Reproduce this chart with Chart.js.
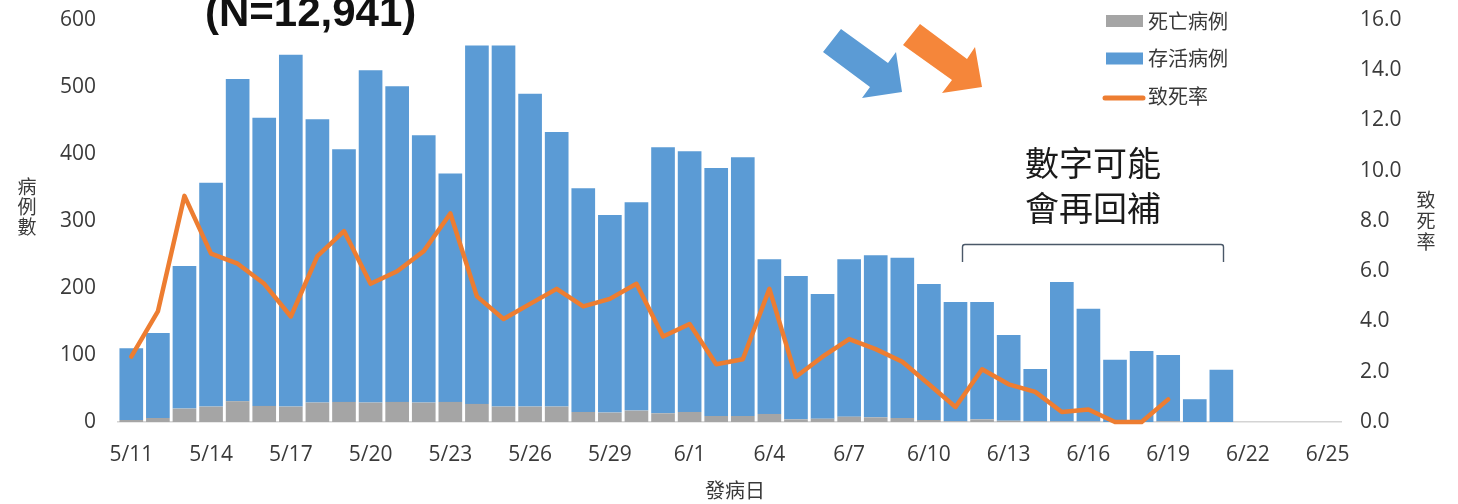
<!DOCTYPE html>
<html>
<head>
<meta charset="utf-8">
<script src="https://cdn.jsdelivr.net/npm/chart.js@4"></script>
<style>
  html, body { margin: 0; padding: 0; background: #fff; }
  #wrap { width: 1458px; height: 504px; position: relative; }
</style>
</head>
<body>
<div id="wrap"><canvas id="c"></canvas></div>
<script>
// categories: onset date, 5/11 .. 6/25
const dates = [
  '5/11','5/12','5/13','5/14','5/15','5/16','5/17','5/18','5/19','5/20','5/21',
  '5/22','5/23','5/24','5/25','5/26','5/27','5/28','5/29','5/30','5/31',
  '6/1','6/2','6/3','6/4','6/5','6/6','6/7','6/8','6/9','6/10',
  '6/11','6/12','6/13','6/14','6/15','6/16','6/17','6/18','6/19','6/20',
  '6/21','6/22','6/23','6/24','6/25'
];
// 死亡病例
const deaths = [
  3, 6, 20, 23, 31, 24, 23, 29, 30, 29, 30,
  29, 30, 27, 23, 23, 23, 15, 14, 17, 13,
  15, 9, 9, 12, 4, 5, 8, 7, 6, 3,
  1, 4, 2, 1, 1, 1, 0, 0, 1, 0,
  0
];
// 存活病例
const survived = [
  107, 127, 213, 334, 481, 430, 525, 423, 377, 496, 471,
  399, 341, 535, 539, 467, 410, 334, 295, 311, 397,
  389, 370, 386, 231, 214, 186, 235, 242, 239, 203,
  178, 175, 128, 78, 208, 168, 93, 106, 99, 34,
  78
];
// 致死率 (%)
const fatality = [
  2.6, 4.4, 9.0, 6.7, 6.3, 5.5, 4.2, 6.6, 7.6, 5.5, 6.0,
  6.8, 8.3, 5.0, 4.1, 4.7, 5.3, 4.6, 4.9, 5.5, 3.4,
  3.9, 2.3, 2.5, 5.3, 1.8, 2.6, 3.3, 2.9, 2.4, 1.5,
  0.6, 2.1, 1.5, 1.2, 0.4, 0.5, 0.0, 0.0, 0.9
];
const leftTicks = [0, 100, 200, 300, 400, 500, 600];
const rightTicks = [0, 2, 4, 6, 8, 10, 12, 14, 16];

const CJK = '"Open Sans", "Noto Sans CJK TC", sans-serif';
const TXT = '#3a3a3a';

// everything that is not a data mark: title, arrows, note, bracket, axis titles, legend
const decor = {
  id: 'decor',
  afterDraw(chart) {
    const ctx = chart.ctx;
    ctx.save();
    // title, cut off at the top like the source
    ctx.fillStyle = '#111';
    ctx.font = 'bold 42px "Liberation Sans", Arial, sans-serif';
    ctx.textAlign = 'left'; ctx.textBaseline = 'alphabetic';
    ctx.fillText('(N=12,941)', 205, 26);

    // arrows
    const poly = (pts, col) => {
      ctx.beginPath(); ctx.moveTo(pts[0][0], pts[0][1]);
      pts.slice(1).forEach(p => ctx.lineTo(p[0], p[1]));
      ctx.closePath(); ctx.fillStyle = col; ctx.fill();
    };
    poly([[841,29],[888,63],[896,52],[902,92],[862,98],[870,87],[823,52]], '#5B9BD5');
    poly([[920,24],[967,59],[975,47],[982,87],[942,93],[952,80],[903,45]], '#F5863A');

    // note
    ctx.fillStyle = '#1a1a1a';
    ctx.font = '34px "Noto Sans CJK TC", sans-serif';
    ctx.textAlign = 'center'; ctx.textBaseline = 'middle';
    ctx.fillText('數字可能', 1093, 163);
    ctx.fillText('會再回補', 1093, 208);

    // bracket
    ctx.strokeStyle = '#4a5868'; ctx.lineWidth = 1.4;
    ctx.beginPath();
    ctx.moveTo(962.5, 262); ctx.lineTo(962.5, 247);
    ctx.quadraticCurveTo(962.5, 244.5, 965, 244.5);
    ctx.lineTo(1221, 244.5);
    ctx.quadraticCurveTo(1223.5, 244.5, 1223.5, 247);
    ctx.lineTo(1223.5, 262);
    ctx.stroke();

    // axis titles, stacked characters
    ctx.fillStyle = TXT;
    ctx.font = '19px "Noto Sans CJK TC", sans-serif';
    ctx.textAlign = 'center'; ctx.textBaseline = 'middle';
    ['病', '例', '數'].forEach((ch, i) => ctx.fillText(ch, 27, 187 + i * 20));
    ['致', '死', '率'].forEach((ch, i) => ctx.fillText(ch, 1426, 200 + i * 21));
    ctx.font = '20px "Noto Sans CJK TC", sans-serif';
    ctx.fillText('發病日', 735, 490);

    // legend
    const items = [chart.data.datasets[1], chart.data.datasets[2], chart.data.datasets[0]];
    items.forEach((ds, i) => {
      const y = 21 + i * 37.5;
      if (ds.type === 'line') {
        ctx.strokeStyle = ds.borderColor; ctx.lineWidth = 5; ctx.lineCap = 'round';
        ctx.beginPath(); ctx.moveTo(1105, y + 2); ctx.lineTo(1143, y + 2); ctx.stroke();
      } else {
        ctx.fillStyle = ds.backgroundColor;
        ctx.fillRect(1106, y - 6, 37, 12);
      }
      ctx.fillStyle = TXT;
      ctx.font = '20px "Noto Sans CJK TC", sans-serif';
      ctx.textAlign = 'left'; ctx.textBaseline = 'middle';
      ctx.fillText(ds.label, 1148, y);
    });
    ctx.restore();
  }
};

new Chart(document.getElementById('c'), {
  data: {
    labels: dates,
    datasets: [
      {
        type: 'line', label: '致死率', data: fatality, yAxisID: 'y1', order: 0,
        borderColor: '#ED7D31', borderWidth: 4.5, pointRadius: 0, tension: 0,
        borderJoinStyle: 'round', borderCapStyle: 'round', clip: false
      },
      {
        type: 'bar', label: '死亡病例', data: deaths, yAxisID: 'y', stack: 's', order: 1,
        backgroundColor: '#A5A5A5', categoryPercentage: 1, barPercentage: 0.89
      },
      {
        type: 'bar', label: '存活病例', data: survived, yAxisID: 'y', stack: 's', order: 1,
        backgroundColor: '#5B9BD5', categoryPercentage: 1, barPercentage: 0.89
      }
    ]
  },
  options: {
    responsive: true, maintainAspectRatio: false, animation: false,
    layout: { padding: { top: 20, left: 0, right: 0, bottom: 0 } },
    plugins: { legend: { display: false }, tooltip: { enabled: false } },
    scales: {
      x: {
        stacked: true,
        grid: { display: false, drawTicks: false },
        border: { display: true, color: '#d4d4d4', width: 1.5 },
        ticks: {
          autoSkip: false, maxRotation: 0, padding: 20, color: TXT,
          font: { family: CJK, size: 21 },
          callback: (v, i) => (i % 3 === 0 ? dates[i] : '')
        },
        afterFit: s => { s.height = 82; s.paddingLeft = 0; s.paddingRight = 0; }
      },
      y: {
        stacked: true, position: 'left', min: 0, max: 600,
        afterBuildTicks: s => { s.ticks = leftTicks.map(v => ({ value: v })); },
        grid: { display: false, drawTicks: false },
        border: { display: false },
        ticks: { padding: 22, color: TXT, font: { family: CJK, size: 21 } },
        afterFit: s => { s.width = 118; s.paddingTop = 0; s.paddingBottom = 0; }
      },
      y1: {
        position: 'right', min: 0, max: 16,
        afterBuildTicks: s => { s.ticks = rightTicks.map(v => ({ value: v })); },
        grid: { display: false, drawTicks: false },
        border: { display: false },
        ticks: { padding: 19, color: TXT, font: { family: CJK, size: 21 }, callback: v => v.toFixed(1) },
        afterFit: s => { s.width = 117; s.paddingTop = 0; s.paddingBottom = 0; }
      }
    }
  },
  plugins: [decor]
});
</script>
</body>
</html>
